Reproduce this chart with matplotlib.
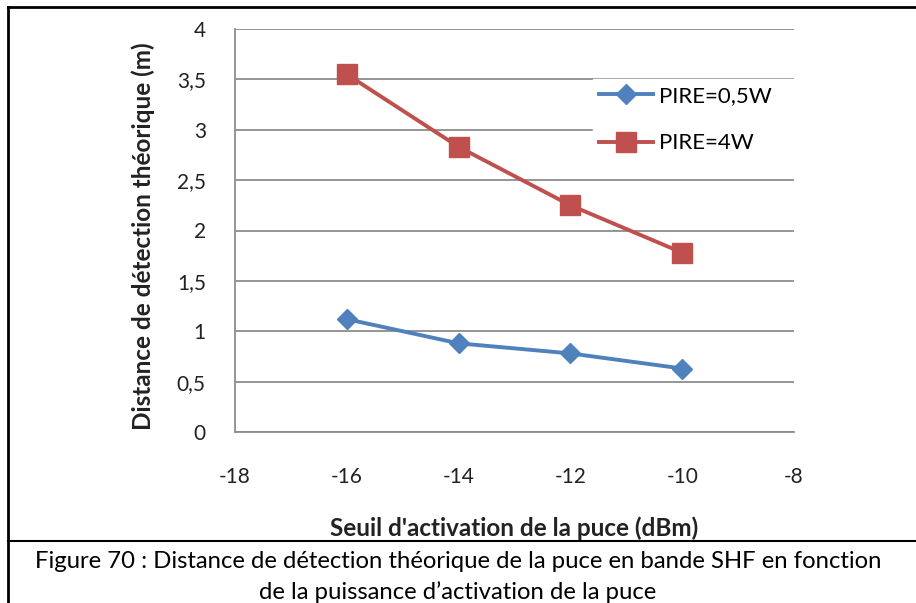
import matplotlib.pyplot as plt
from matplotlib.lines import Line2D

plt.rcParams['font.family'] = ['Lato', 'DejaVu Sans']
plt.rcParams['axes.unicode_minus'] = False

# data
seuil = [-16, -14, -12, -10]
pire_05w = [1.12, 0.88, 0.78, 0.63]
pire_4w = [3.55, 2.83, 2.25, 1.78]

W, H = 916, 603
fig = plt.figure(figsize=(W / 100, H / 100), dpi=100)

# plot area in pixels: left 235, right 794, top 29, bottom 432
ax = fig.add_axes([235 / W, 1 - 432 / H, (794 - 235) / W, (432 - 29) / H])

ax.plot(seuil, pire_05w, color='#4F81BD', lw=2.8, marker='D', ms=10,
        label='PIRE=0,5W', zorder=3)
ax.plot(seuil, pire_4w, color='#C0504D', lw=2.8, marker='s', ms=14,
        label='PIRE=4W', zorder=3)

ax.set_xlim(-18, -8)
ax.set_ylim(0, 4)
ax.set_xticks(range(-18, -7, 2))
ax.set_yticks([0, 0.5, 1, 1.5, 2, 2.5, 3, 3.5, 4])
ax.set_yticklabels(['0', '0,5', '1', '1,5', '2', '2,5', '3', '3,5', '4'])
ax.tick_params(length=0, labelsize=15, colors='#222222')
ax.tick_params(axis='x', pad=25)
ax.tick_params(axis='y', pad=21)
ax.grid(axis='y', color='#8c8c8c', lw=1.3)
ax.set_axisbelow(True)
for s in ['top', 'right']:
    ax.spines[s].set_visible(False)
for s in ['left', 'bottom']:
    ax.spines[s].set_color('#8c8c8c')
    ax.spines[s].set_linewidth(1.3)

ax.set_ylabel('Distance de détection théorique (m)', fontsize=17.5,
              fontweight='bold', va='center', color='#222222')
ax.yaxis.set_label_coords(-0.165, 0.485)
ax.set_xlabel("Seuil d'activation de la puce (dBm)", fontsize=17.5,
              fontweight='bold', va='center', color='#222222')
ax.xaxis.set_label_coords(0.5, -0.238)

leg = ax.legend(loc='upper left', bbox_to_anchor=(0.64, 0.776, 0.36, 0.1),
                mode='expand', frameon=True,
                fontsize=16, handlelength=2.4, labelspacing=1.25,
                handletextpad=0.3, borderpad=0.3, borderaxespad=0)
leg.get_frame().set_facecolor('white')
leg.get_frame().set_edgecolor('white')
leg.get_frame().set_alpha(1)
leg.get_frame().set_boxstyle('square', pad=0)

# border lines of the figure frame
fig.add_artist(Line2D([8 / W, 8 / W], [0, 1 - 7 / H], color='black', lw=2))
fig.add_artist(Line2D([8 / W, 1], [1 - 7 / H, 1 - 7 / H], color='black', lw=2))
fig.add_artist(Line2D([8 / W, 1], [1 - 541 / H, 1 - 541 / H], color='black', lw=1.5))

caption = ("Figure 70 : Distance de détection théorique de la puce en bande SHF en fonction\n"
           "de la puissance d\u2019activation de la puce")
fig.text(0.5, 1 - 577 / H, caption, ha='center', va='center', fontsize=17.2,
         linespacing=1.5)

fig.savefig('out.png', dpi=100)
